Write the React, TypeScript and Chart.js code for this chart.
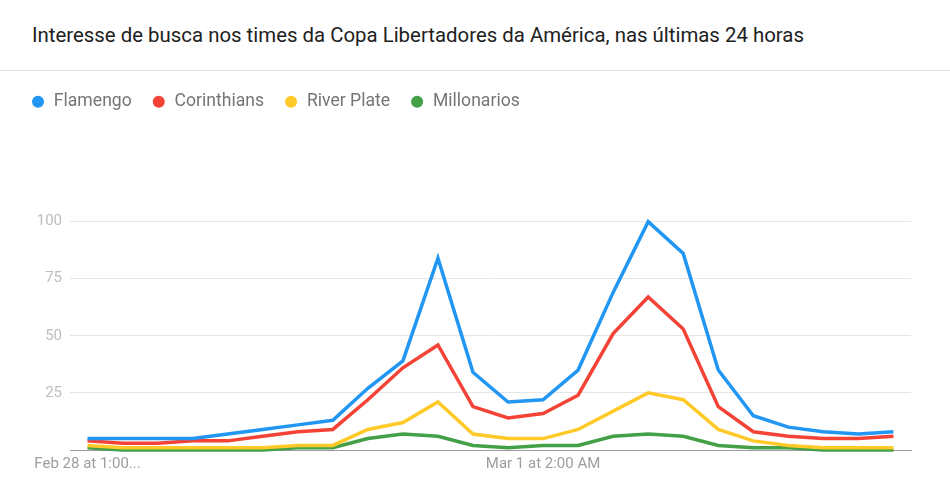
import React, { useEffect, useRef } from "react";
import { Chart, registerables } from "chart.js";

Chart.register(...registerables);

const chartTitle =
  "Interesse de busca nos times da Copa Libertadores da América, nas últimas 24 horas";

const categories: string[] = [
  "Feb 28 at 1:00 PM",
  "Feb 28 at 2:00 PM",
  "Feb 28 at 3:00 PM",
  "Feb 28 at 4:00 PM",
  "Feb 28 at 5:00 PM",
  "Feb 28 at 6:00 PM",
  "Feb 28 at 7:00 PM",
  "Feb 28 at 8:00 PM",
  "Feb 28 at 9:00 PM",
  "Feb 28 at 10:00 PM",
  "Feb 28 at 11:00 PM",
  "Mar 1 at 12:00 AM",
  "Mar 1 at 1:00 AM",
  "Mar 1 at 2:00 AM",
  "Mar 1 at 3:00 AM",
  "Mar 1 at 4:00 AM",
  "Mar 1 at 5:00 AM",
  "Mar 1 at 6:00 AM",
  "Mar 1 at 7:00 AM",
  "Mar 1 at 8:00 AM",
  "Mar 1 at 9:00 AM",
  "Mar 1 at 10:00 AM",
  "Mar 1 at 11:00 AM",
  "Mar 1 at 12:00 PM",
];

// Tick labels actually shown on the x axis (empty = hidden)
const xTickLabels: string[] = [
  "Feb 28 at 1:00...", "", "", "", "", "", "", "", "", "", "", "", "",
  "Mar 1 at 2:00 AM", "", "", "", "", "", "", "", "", "", "",
];

const yTickValues: number[] = [25, 50, 75, 100];

const seriesNames: string[] = ["Flamengo", "Corinthians", "River Plate", "Millonarios"];
const seriesColors: string[] = ["#2196F3", "#F44336", "#FFCA28", "#43A047"];

const flamengo: number[] = [5, 5, 5, 5, 7, 9, 11, 13, 27, 39, 84, 34, 21, 22, 35, 69, 100, 86, 35, 15, 10, 8, 7, 8];
const corinthians: number[] = [4, 3, 3, 4, 4, 6, 8, 9, 22, 36, 46, 19, 14, 16, 24, 51, 67, 53, 19, 8, 6, 5, 5, 6];
const riverPlate: number[] = [2, 1, 1, 1, 1, 1, 2, 2, 9, 12, 21, 7, 5, 5, 9, 17, 25, 22, 9, 4, 2, 1, 1, 1];
const millonarios: number[] = [1, 0, 0, 0, 0, 0, 1, 1, 5, 7, 6, 2, 1, 2, 2, 6, 7, 6, 2, 1, 1, 0, 0, 0];

const seriesValues: number[][] = [flamengo, corinthians, riverPlate, millonarios];

const legendSpacing = {
  id: "legendSpacing",
  beforeLayout(chart: any) {
    const legend = chart.legend;
    if (!legend || legend._patched) return;
    const orig = legend.fit;
    legend.fit = function () {
      orig.call(this);
      this.height += 101;
    };
    legend._patched = true;
  },
};

export default function App() {
  const canvasRef = useRef<HTMLCanvasElement | null>(null);

  useEffect(() => {
    if (!canvasRef.current) return;
    const chart = new Chart(canvasRef.current, {
      type: "line",
      data: {
        labels: categories,
        datasets: seriesNames.map((name, i) => ({
          label: name,
          data: seriesValues[i],
          borderColor: seriesColors[i],
          backgroundColor: seriesColors[i],
          borderWidth: 3.5,
          pointRadius: 0,
          pointHoverRadius: 0,
          tension: 0,
          fill: false,
          clip: false as any,
        })),
      },
      options: {
        animation: false,
        responsive: true,
        maintainAspectRatio: false,
        layout: { padding: { left: 11, right: 39, top: 2, bottom: 0 } },
        plugins: {
          title: { display: false },
          tooltip: { enabled: false },
          legend: {
            display: true,
            position: "top",
            align: "start",
            labels: {
              usePointStyle: true,
              pointStyle: "circle",
              boxWidth: 14,
              boxHeight: 8.5,
              padding: 20,
              color: "#757575",
              font: { family: "Roboto", size: 17.6 },
              generateLabels(chart: any) {
                const base = Chart.defaults.plugins.legend.labels.generateLabels(chart);
                return base.map((item: any) => ({
                  ...item,
                  lineWidth: 0,
                  fillStyle: seriesColors[item.datasetIndex],
                  strokeStyle: seriesColors[item.datasetIndex],
                }));
              },
            },
          },
        },
        scales: {
          x: {
            type: "category",
            offset: true,
            grid: { display: false, drawTicks: false },
            border: { display: true, color: "#9e9e9e", width: 1 },
            ticks: {
              autoSkip: false,
              maxRotation: 0,
              minRotation: 0,
              padding: 5,
              color: "#9e9e9e",
              font: { family: "Roboto", size: 15 },
              callback: (_v: any, index: number) => xTickLabels[index],
            },
            afterFit(scale: any) {
              scale.height = 50;
            },
          },
          y: {
            min: 0,
            max: 100,
            border: { display: false },
            grid: { color: "#e6e6e6", lineWidth: 1, drawTicks: false },
            afterBuildTicks(scale: any) {
              scale.ticks = [0, ...yTickValues].map((v) => ({ value: v }));
            },
            ticks: {
              padding: 8,
              color: "#bdbdbd",
              font: { family: "Roboto", size: 15 },
              callback: (v: any) => (yTickValues.includes(Number(v)) ? String(v) : ""),
            },
            afterFit(scale: any) {
              scale.width = 59;
            },
          },
        },
      },
      plugins: [legendSpacing],
    });
    return () => chart.destroy();
  }, []);

  return (
    <div
      style={{
        position: "absolute",
        left: 0,
        top: 0,
        width: 950,
        height: 500,
        background: "#ffffff",
        fontFamily: "Roboto, sans-serif",
        overflow: "hidden",
      }}
    >
      <div
        style={{
          height: 70,
          lineHeight: "70px",
          borderBottom: "1px solid #e0e0e0",
          paddingLeft: 32,
          fontSize: 20.4,
          color: "#212121",
          whiteSpace: "nowrap",
          boxSizing: "content-box",
        }}
      >
        {chartTitle}
      </div>
      <div style={{ position: "relative", width: 950, height: 429 }}>
        <canvas ref={canvasRef} />
      </div>
    </div>
  );
}
